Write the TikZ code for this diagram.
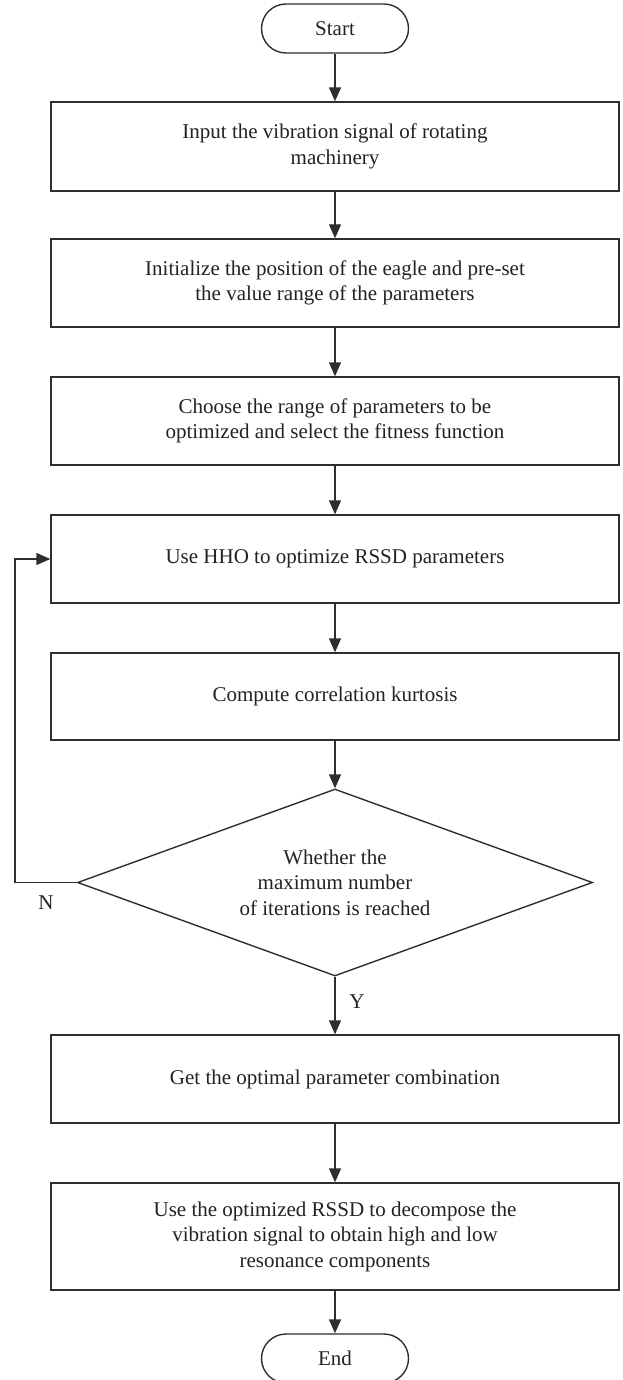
\documentclass[tikz,border=0pt]{standalone}
\usepackage{fontspec}
\setmainfont{Liberation Serif}
\usetikzlibrary{shapes.geometric,arrows.meta}
\definecolor{ln}{HTML}{2E2E2E}
\definecolor{txt}{HTML}{222222}
\begin{document}
\begin{tikzpicture}[x=1pt,y=-1pt,
  every node/.style={font=\fontsize{21}{25.5}\selectfont, text=txt},
  procbox/.style={draw=ln, line width=1.4pt, minimum width=568pt, minimum height=88pt, align=center, inner sep=0pt},
  term/.style={draw=ln, line width=1.4pt, rounded corners=24.5pt, minimum width=147pt, minimum height=49pt, inner sep=0pt},
  decide/.style={draw=ln, line width=1.4pt, diamond, aspect=2.754, minimum width=515pt, minimum height=187pt, align=center, inner sep=0pt},
  flow/.style={draw=ln, line width=1.4pt, -{Triangle[length=14pt,width=12pt]}},
]
\useasboundingbox (0,0) rectangle (623,1380);
\node[term] (start) at (335,28.5) {Start};
\node[procbox, minimum height=89pt] (b1) at (335,146.5) {Input the vibration signal of rotating\\machinery};
\node[procbox] (b2) at (335,283) {Initialize the position of the eagle and pre-set\\the value range of the parameters};
\node[procbox] (b3) at (335,421) {Choose the range of parameters to be\\optimized and select the fitness function};
\node[procbox] (b4) at (335,559) {Use HHO to optimize RSSD parameters};
\node[procbox, minimum height=87pt] (b5) at (335,696.5) {Compute correlation kurtosis};
\node[decide] (dec) at (335,882.5) {Whether the\\maximum number\\of iterations is reached};
\node[procbox] (b6) at (335,1079) {Get the optimal parameter combination};
\node[procbox, minimum height=107pt] (b7) at (335,1236.5) {Use the optimized RSSD to decompose the\\vibration signal to obtain high and low\\resonance components};
\node[term] (end) at (335,1358.5) {End};
\node (ylab) at (357,1002) {Y};
\node (nlab) at (46,903) {N};
\coordinate (loopx) at (15,0);
\draw[flow] (start) -- (b1);
\draw[flow] (b1) -- (b2);
\draw[flow] (b2) -- (b3);
\draw[flow] (b3) -- (b4);
\draw[flow] (b4) -- (b5);
\draw[flow] (b5) -- (dec);
\draw[flow] (dec) -- (b6);
\draw[flow] (b6) -- (b7);
\draw[flow] (b7) -- (end);
\draw[flow] (dec.west) -- (dec.west -| loopx) |- (b4.west);
\end{tikzpicture}
\end{document}
